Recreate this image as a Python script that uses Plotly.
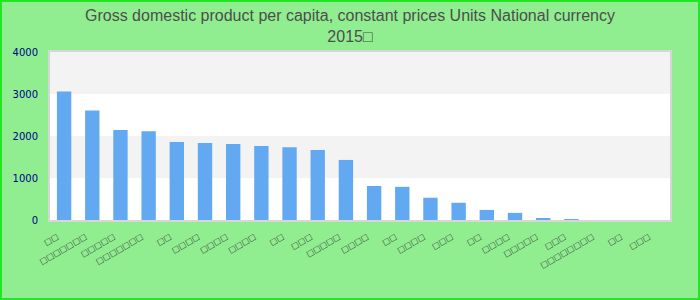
import plotly.graph_objects as go

# ---- data ----
title_text = "Gross domestic product per capita, constant prices Units National currency<br>2015\u25a1"
label_lengths = [2, 7, 5, 7, 2, 4, 4, 4, 2, 3, 5, 4, 2, 4, 3, 2, 4, 5, 3, 8, 2, 3]
categories = ["\u25a1" * n for n in label_lengths]
values = [3060, 2610, 2140, 2115, 1855, 1835, 1810, 1760, 1735, 1665, 1430,
          810, 790, 530, 410, 240, 170, 25, 22, 0, 0, 0]
y_ticks = [0, 1000, 2000, 3000, 4000]

# ---- layout constants ----
W, H = 700, 300
ML, MR, MT, MB = 50, 30, 52, 80
PW, PH = W - ML - MR, H - MT - MB

idx = list(range(len(categories)))

fig = go.Figure()
fig.add_trace(go.Bar(x=idx, y=values, marker=dict(color="#63a9f2", line=dict(width=0)),
                     hoverinfo="y"))

shapes = []
# alternating bands between tick values
for i in range(len(y_ticks) - 1):
    if i % 2 == 1:
        shapes.append(dict(type="rect", xref="paper", yref="y", x0=0, x1=1,
                           y0=y_ticks[i], y1=y_ticks[i + 1],
                           fillcolor="#f3f3f3", line=dict(width=0), layer="below"))
# figure border
shapes.append(dict(type="rect", xref="paper", yref="paper",
                   x0=-ML / PW, x1=1 + MR / PW, y0=-MB / PH, y1=1 + MT / PH,
                   line=dict(color="#22e622", width=4), fillcolor="rgba(0,0,0,0)"))

fig.update_layout(
    width=W, height=H,
    margin=dict(l=ML, r=MR, t=MT, b=MB),
    paper_bgcolor="#90ee90",
    plot_bgcolor="#ffffff",
    bargap=0.49,
    showlegend=False,
    shapes=shapes,
    title=dict(text=title_text, x=0.5, xref="container", xanchor="center",
               y=1 - 21 / H, yref="container", yanchor="top",
               font=dict(family="Liberation Sans, Arial, sans-serif", size=16, color="#4d4d4d")),
    xaxis=dict(tickmode="array", tickvals=idx, ticktext=categories, tickangle=-30,
               tickfont=dict(family="DejaVu Sans", size=8, color="#333333"),
               ticklabelshift=-7, ticklabelstandoff=7,
               range=[-0.5, len(idx) - 0.5],
               showgrid=False, zeroline=False, showline=True, mirror=True,
               linecolor="#d6d6d6", linewidth=2, ticks=""),
    yaxis=dict(range=[y_ticks[0], y_ticks[-1]], tickmode="array", tickvals=y_ticks,
               tickfont=dict(family="DejaVu Sans", size=10, color="#00008b"),
               ticklabelstandoff=8,
               showgrid=False, zeroline=False, showline=True, mirror=True,
               linecolor="#d6d6d6", linewidth=2, ticks=""),
)

fig.write_html("out.html")
